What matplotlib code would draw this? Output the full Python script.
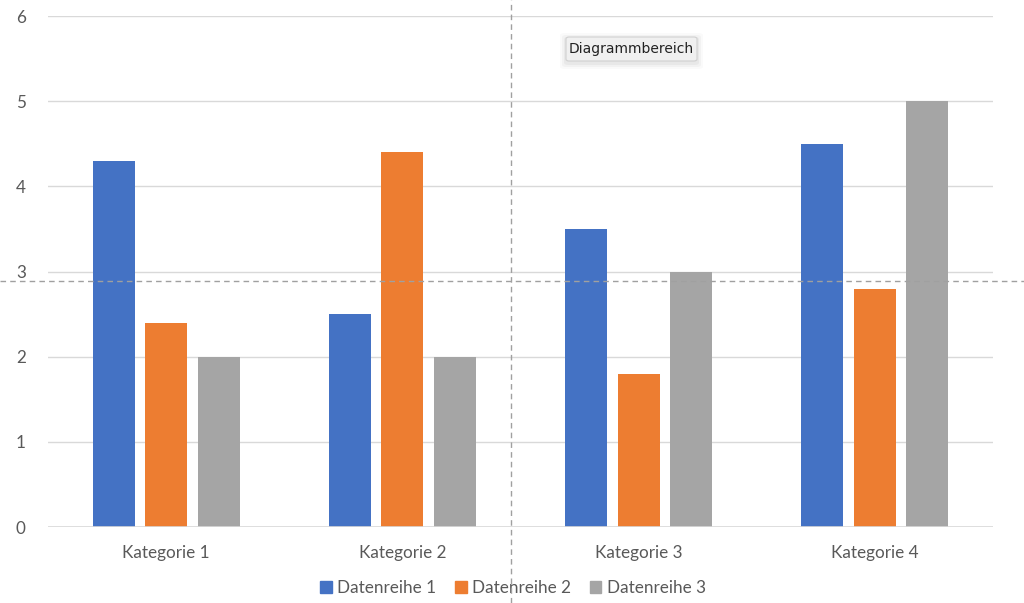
import matplotlib
matplotlib.use("Agg")
import matplotlib.pyplot as plt
import numpy as np
from matplotlib.patches import FancyBboxPatch
from matplotlib.lines import Line2D

plt.rcParams['font.family'] = ['Lato', 'DejaVu Sans']

categories = ["Kategorie 1", "Kategorie 2", "Kategorie 3", "Kategorie 4"]
series_names = ["Datenreihe 1", "Datenreihe 2", "Datenreihe 3"]
reihe1 = [4.3, 2.5, 3.5, 4.5]
reihe2 = [2.4, 4.4, 1.8, 2.8]
reihe3 = [2.0, 2.0, 3.0, 5.0]
colors = ["#4472C4", "#ED7D31", "#A5A5A5"]
yticks = [0, 1, 2, 3, 4, 5, 6]

W, H = 1024, 603
fig = plt.figure(figsize=(W/100, H/100), dpi=100)
ax = fig.add_axes([48/W, 1-527/H, (993-48)/W, (527-16)/H])

x = np.arange(len(categories))
bw = 0.178
offs = [-0.222, 0.0, 0.222]
for vals, off, c, name in zip([reihe1, reihe2, reihe3], offs, colors, series_names):
    ax.bar(x + off, vals, width=bw, color=c, label=name, zorder=3)

ax.set_xlim(-0.5, 3.5)
ax.set_ylim(0, 6)
ax.set_yticks(yticks)
ax.set_xticks(x)
ax.set_xticklabels(categories)
ax.grid(axis='y', color='#D9D9D9', linewidth=1.0, zorder=0)
ax.axhline(0, color='#D9D9D9', linewidth=1.2, zorder=4)
for s in ax.spines.values():
    s.set_visible(False)
ax.tick_params(axis='both', length=0, labelsize=12.3, labelcolor='#595959')
ax.tick_params(axis='y', pad=16)
ax.tick_params(axis='x', pad=13)

handles = [plt.Rectangle((0, 0), 1, 1, color=c) for c in colors]
fig.legend(handles, series_names, loc='center', bbox_to_anchor=(513/W, 1-588/H),
           ncol=3, frameon=False, fontsize=12.3, labelcolor='#595959',
           handlelength=0.65, handleheight=0.65, handletextpad=0.3, columnspacing=1.15)

# crosshair dashed lines
fig.add_artist(Line2D([511/W, 511/W], [0, 1], transform=fig.transFigure,
                      color='#A0A0A0', linestyle=(0, (4, 3)), linewidth=1.0, zorder=10))
fig.add_artist(Line2D([0, 1], [1-281/H, 1-281/H], transform=fig.transFigure,
                      color='#A0A0A0', linestyle=(0, (4, 3)), linewidth=1.0, zorder=10))

# tooltip
for i, a in enumerate([0.04, 0.03, 0.02]):
    d = (i + 1) * 2
    fig.add_artist(FancyBboxPatch(((566-d)/W, 1-(63+d)/H), (131+2*d)/W, (24+2*d)/H,
                                  boxstyle='round,pad=0,rounding_size=0.004',
                                  transform=fig.transFigure, facecolor='black', alpha=a,
                                  edgecolor='none', zorder=11))
fig.add_artist(FancyBboxPatch((566/W, 1-61/H), 131/W, 24/H,
                              boxstyle='round,pad=0,rounding_size=0.003',
                              transform=fig.transFigure, facecolor='#F0F0F0',
                              edgecolor='#D0D0D0', linewidth=0.8, zorder=12))
fig.text(631.5/W, 1-49/H, "Diagrammbereich", ha='center', va='center',
         fontsize=10, color='#222222', zorder=13, family=['DejaVu Sans'])

fig.savefig("out.png", dpi=100)
